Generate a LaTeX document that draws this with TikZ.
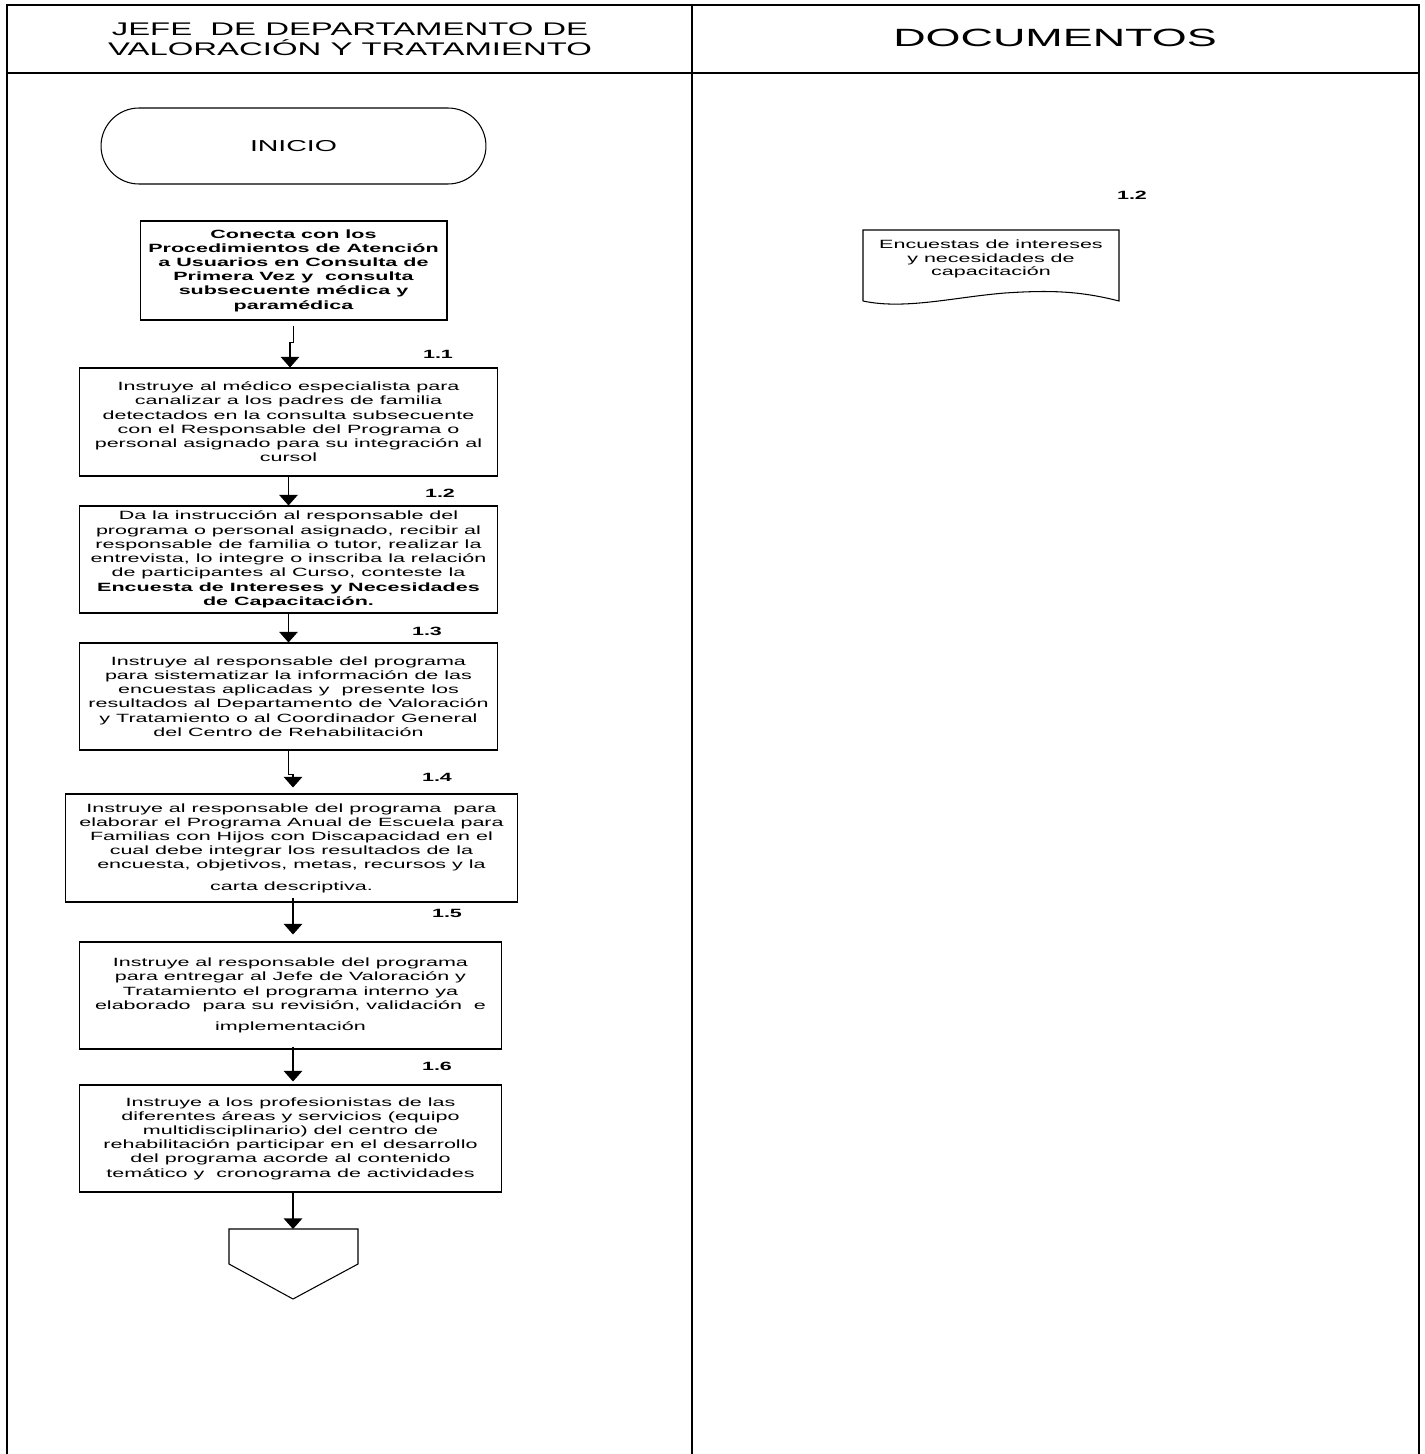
\documentclass[tikz,border=0pt]{standalone}
\usepackage{fontspec}
\setmainfont{Liberation Sans}[FakeStretch=1.8]
\usetikzlibrary{arrows.meta}

\tikzset{
  paso/.style={draw,line width=0.6pt,align=center,inner sep=1pt,
    font=\fontsize{6.8}{8.1}\selectfont},
  num/.style={font=\bfseries\fontsize{6.8}{8}\selectfont},
  flecha/.style={line width=0.6pt,-{Triangle[width=10.5pt,length=6pt]}},
}

\begin{document}
\begin{tikzpicture}[x=0.02cm,y=-0.02cm,line width=0.6pt]
  \useasboundingbox (0,0) rectangle (1424,1454);
  % tabla
  \draw[line width=0.8pt] (7,1460) |- (1419,5) -- (1419,1460);
  \draw[line width=0.8pt] (7,73) -- (1419,73);
  \draw[line width=0.8pt] (692,5) -- (692,1460);
  \node[align=center,font=\fontsize{10.4}{11.4}\selectfont] (jefe) at (350,39)
    {JEFE\ \ DE DEPARTAMENTO DE\\VALORACIÓN Y TRATAMIENTO};
  \node[font=\fontsize{14.2}{16}\selectfont] (docs) at (1055,38) {DOCUMENTOS};

  % flujo
  \node[draw,rounded corners=0.76cm,minimum width=7.7cm,minimum height=1.52cm,
    font=\fontsize{9}{10}\selectfont] (inicio) at (293.5,146) {INICIO};
  \node[paso,font=\bfseries\fontsize{6.8}{8.1}\selectfont,minimum width=6.14cm,minimum height=1.98cm]
    (b0) at (293.5,270.5) {Conecta con los\\Procedimientos de Atención\\a Usuarios en Consulta de\\
    Primera Vez y\ \ consulta\\subsecuente médica y\\paramédica};
  \node[paso,minimum width=8.38cm,minimum height=2.16cm] (b11) at (288.5,422)
    {Instruye al médico especialista para\\canalizar a los padres de familia\\
    detectados en la consulta subsecuente\\con el Responsable del Programa o\\
    personal asignado para su integración al\\cursol};
  \node[paso,minimum width=8.38cm,minimum height=2.14cm] (b12) at (288.5,559.5)
    {Da la instrucción al responsable del\\programa o personal asignado, recibir al\\
    responsable de familia o tutor, realizar la\\entrevista, lo integre o inscriba la relación\\
    de participantes al Curso, conteste la\\\textbf{Encuesta de Intereses y Necesidades}\\
    \textbf{de Capacitación.}};
  \node[paso,minimum width=8.38cm,minimum height=2.14cm] (b13) at (288.5,696.5)
    {Instruye al responsable del programa\\para sistematizar la información de las\\
    encuestas aplicadas y\ \ presente los\\resultados al Departamento de Valoración\\
    y Tratamiento o al Coordinador General\\del Centro de Rehabilitación};
  \node[paso,minimum width=9.06cm,minimum height=2.16cm] (b14) at (291.5,848)
    {Instruye al responsable del programa\ \ para\\elaborar el Programa Anual de Escuela para\\
    Familias con Hijos con Discapacidad en el\\cual debe integrar los resultados de la\\
    encuesta, objetivos, metas, recursos y la\\[4pt]carta descriptiva.};
  \node[paso,minimum width=8.46cm,minimum height=2.14cm] (b15) at (290.5,995.5)
    {Instruye al responsable del programa\\para entregar al Jefe de Valoración y\\
    Tratamiento el programa interno ya\\elaborado\ \ para su revisión, validación\ \ e\\[4pt]
    implementación};
  \node[paso,minimum width=8.46cm,minimum height=2.14cm] (b16) at (290.5,1138.5)
    {Instruye a los profesionistas de las\\diferentes áreas y servicios (equipo\\
    multidisciplinario) del centro de\\rehabilitación participar en el desarrollo\\
    del programa acorde al contenido\\temático y\ \ cronograma de actividades};
  \draw (229,1229) -- (358,1229) -- (358,1264) -- (293,1299) -- (229,1264) -- cycle;
  \coordinate (fin) at (293,1229);

  \node[num] (n11) at (438,354) {1.1};
  \node[num] (n12) at (440,493) {1.2};
  \node[num] (n13) at (427,631) {1.3};
  \node[num] (n14) at (437,777) {1.4};
  \node[num] (n15) at (447,913) {1.5};
  \node[num] (n16) at (437,1066) {1.6};

  \draw[flecha,shorten <=0.1cm] (b0.south) -- ++(0,22) -| ([xshift=0.03cm]b11.north);
  \draw[flecha] (b11.south) -- (b12.north);
  \draw[flecha] (b12.south) -- (b13.north);
  \draw[flecha,shorten >=0.12cm] (b13.south) -- ++(0,24) -| (b14.north -| fin);
  \draw[flecha,shorten <=-0.1cm,shorten >=0.14cm] (b14.south -| fin) -- (b15.north -| fin);
  \draw[flecha,shorten <=-0.06cm,shorten >=0.06cm] (b15.south -| fin) -- (b16.north -| fin);
  \draw[flecha] (b16.south -| fin) -- (fin);

  % documento
  \draw (863,301) -- (863,230) -- (1119,230) -- (1119,301)
    .. controls (1080,291) and (1050,290) .. (1005,293)
    .. controls (955,297) and (905,310) .. (863,301);
  \node[align=center,font=\fontsize{6.8}{7.8}\selectfont] (encuesta) at (991,259)
    {Encuestas de intereses\\y necesidades de\\capacitación};
  \node[num] (n12d) at (1132,195) {1.2};
\end{tikzpicture}
\end{document}
